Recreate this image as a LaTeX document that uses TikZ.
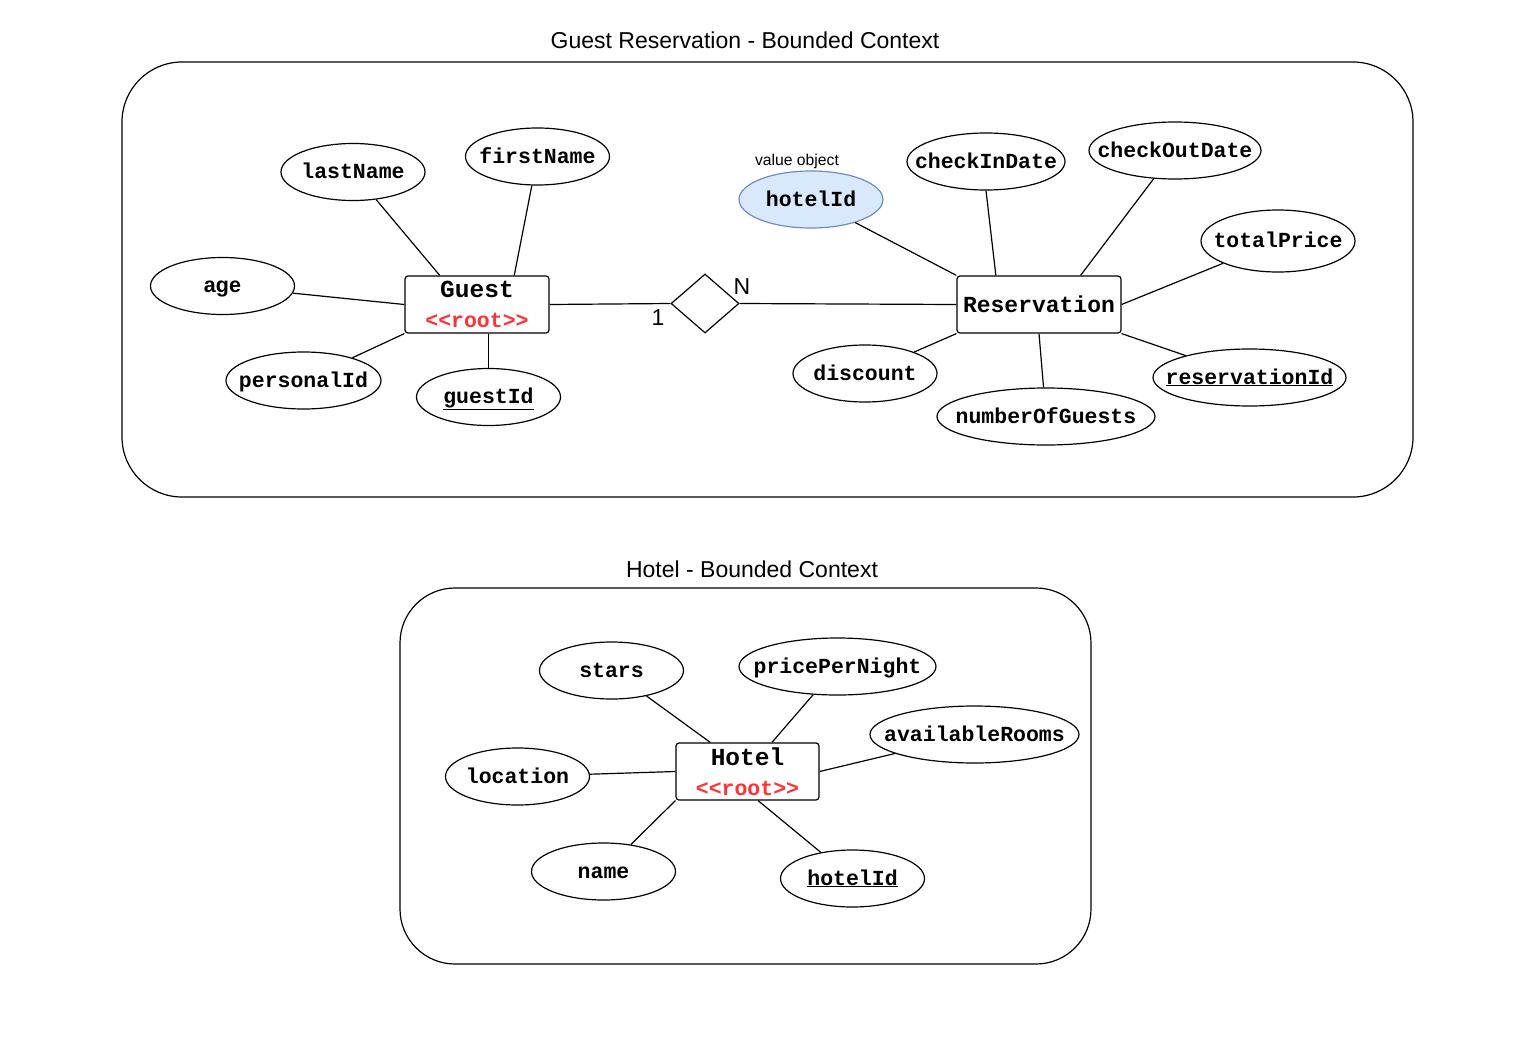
\documentclass[tikz,border=0pt]{standalone}
\usepackage{fontspec}
\setmainfont{Liberation Sans}
\newfontfamily\monofnt{Liberation Mono}
\usetikzlibrary{shapes.geometric}
\definecolor{rootred}{RGB}{255,51,51}
\definecolor{voFill}{RGB}{218,232,252}
\definecolor{voDraw}{RGB}{108,142,191}
\newcommand{\rootlbl}{{\color{rootred}\fontsize{21.5}{29.5}\selectfont <{}<root>{}>}}
\newcommand{\fixw}[1]{\makebox[0pt][c]{#1}}
\begin{document}
\begin{tikzpicture}[x=1pt,y=-1pt,
  attr/.style={ellipse, draw, line width=1.2pt, minimum width=144pt, minimum height=57pt, inner sep=0pt,
    text height=13pt, text depth=0pt,
    font=\monofnt\bfseries\fontsize{21.5}{24}\selectfont},
  ent/.style={draw, rounded corners=3pt, line width=1.2pt, minimum height=57pt, inner sep=0pt, align=center,
    font=\monofnt\bfseries\fontsize{24.5}{29.5}\selectfont},
  ctx/.style={draw, line width=1.2pt},
  ttl/.style={font=\fontsize{23}{27}\selectfont},
  conn/.style={line width=1.2pt},
  rel/.style={diamond, draw, line width=1.2pt, minimum width=68pt, minimum height=59pt, inner sep=0pt}]
\useasboundingbox (0,0) rectangle (1524,1044);

% contexts
\draw[ctx, rounded corners=60pt] (122,62) rectangle (1413,497);
\draw[ctx, rounded corners=55pt] (400,588) rectangle (1091,964);
\node[ttl] (t1) at (745,40) {Guest Reservation - Bounded Context};
\node[ttl] (t2) at (752,569) {Hotel - Bounded Context};

% Guest aggregate
\node[ent, minimum width=144pt] (guest) at (477,304.5) {Guest\\\rootlbl};
\node[attr] (lastName) at (353,172) {\fixw{lastName}};
\node[attr] (firstName) at (537.5,156.5) {\fixw{firstName}};
\node[attr, font=\bfseries\fontsize{21.5}{24}\selectfont] (age) at (222.5,286) {\fixw{age}};
\node[attr, minimum width=155pt] (personalId) at (303.5,380.5) {\fixw{personalId}};
\node[attr] (guestId) at (488.5,397) {\fixw{\underline{guestId}}};

\draw[conn] (guest.142) -- (lastName);
\draw[conn] (guest.38) -- (firstName);
\draw[conn] (guest.west) -- (age);
\draw[conn] (guest.south west) -- (personalId);
\draw[conn] (guest.south -| guestId) -- (guestId);

% relationship
\node[rel] (rel) at (705,303.5) {};
\draw[conn] (guest.east) -- (rel.west);
\node[font=\fontsize{23}{27}\selectfont] (one) at (658,318) {1};
\node[font=\fontsize{23}{27}\selectfont] (many) at (742,287) {N};

% Reservation aggregate
\node[ent, minimum width=164pt, font=\monofnt\bfseries\fontsize{23}{27}\selectfont] (res) at (1039,304.5) {Reservation};
\draw[conn] (rel.east) -- (res.west);
\node[attr, fill=voFill, draw=voDraw] (hotelIdVO) at (811,199.5) {\fixw{hotelId}};
\node[font=\fontsize{15.7}{18}\selectfont] (vo) at (797,161) {value object};
\node[attr, minimum width=158pt] (checkIn) at (986,161.5) {\fixw{checkInDate}};
\node[attr, minimum width=172pt] (checkOut) at (1175,150.5) {\fixw{checkOutDate}};
\node[attr, minimum width=154pt, minimum height=62pt] (total) at (1278,241) {\fixw{totalPrice}};
\node[attr] (discount) at (865,373.5) {\fixw{discount}};
\node[attr, minimum width=218pt] (guests) at (1046,416.5) {\fixw{numberOfGuests}};
\node[attr, minimum width=193pt] (resId) at (1249.5,377.5) {\fixw{\underline{reservationId}}};

\draw[conn] (res.north west) -- (hotelIdVO);
\draw[conn] (res.146) -- (checkIn.south);
\draw[conn] (res.35) -- (checkOut);
\draw[conn] (res.east) -- (total);
\draw[conn] (res.south west) -- (discount);
\draw[conn] (res.south) -- (guests);
\draw[conn] (res.south east) -- (resId);

% Hotel aggregate
\node[ent, minimum width=143pt] (hotel) at (747.5,771.5) {Hotel\\\rootlbl};
\node[attr] (stars) at (611.5,670.5) {\fixw{stars}};
\node[attr, minimum width=197pt] (price) at (837.5,666.5) {\fixw{pricePerNight}};
\node[attr, minimum width=209pt] (rooms) at (974.5,734.5) {\fixw{availableRooms}};
\node[attr] (location) at (517.5,776.5) {\fixw{location}};
\node[attr] (name) at (603.5,871.5) {\fixw{name}};
\node[attr] (hotelId) at (852.5,878.5) {\fixw{\underline{hotelId}}};

\draw[conn] (hotel.142) -- (stars);
\draw[conn] (hotel.50) -- (price);
\draw[conn] (hotel.east) -- (rooms);
\draw[conn] (hotel.west) -- (location);
\draw[conn] (hotel.south west) -- (name);
\draw[conn] (hotel.-70) -- (hotelId);
\end{tikzpicture}
\end{document}
